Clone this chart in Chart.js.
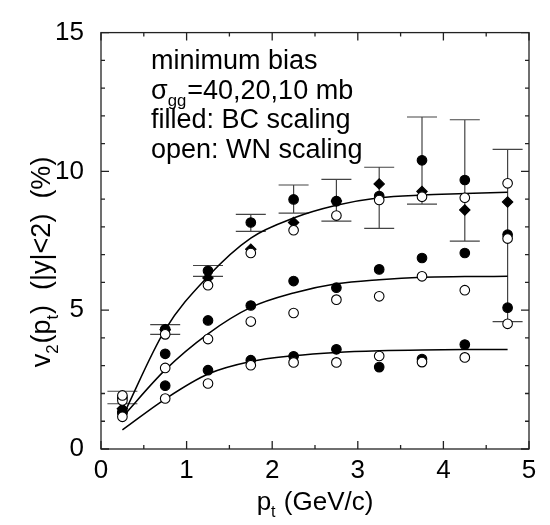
<!DOCTYPE html>
<html><head><meta charset="utf-8">
<script src="https://cdn.jsdelivr.net/npm/chart.js@4.4.1/dist/chart.umd.min.js"></script>
<style>html,body{margin:0;padding:0;background:#fff}canvas{display:block}</style>
</head><body>
<canvas id="c" width="550" height="525"></canvas>
<script>
// ---- data ----
const pt = [0.25, 0.75, 1.25, 1.75, 2.25, 2.75, 3.25, 3.75, 4.25, 4.75];
// sigma_gg = 40 mb
const bc40 = [1.85, 4.31, 6.42, 8.16, 8.99, 8.93, 9.11, 10.40, 9.69, 7.72];
const err40Low = [1.63, 4.13, 6.22, 7.84, 8.50, 8.21, 7.95, 8.82, 7.49, 4.59];
const err40High = [2.08, 4.48, 6.61, 8.45, 9.51, 9.71, 10.15, 11.96, 11.86, 10.79];
const wn40 = [1.93, 4.13, 5.90, 7.06, 7.88, 8.41, 8.97, 9.09, 9.05, 9.57];
const diamonds = [1.45, 4.30, 6.16, 7.20, 8.16, 8.93, 9.55, 9.28, 8.61, 8.90];
const extraOpen = [null, null, null, null, null, null, null, null, null, 7.58];
// sigma_gg = 20 mb
const bc20 = [1.33, 3.43, 4.63, 5.17, 6.05, 5.81, 6.47, 6.88, 7.06, 5.09];
const wn20 = [1.75, 2.92, 3.96, 4.59, 4.90, 5.38, 5.50, 6.22, 5.72, 4.51];
// sigma_gg = 10 mb
const bc10 = [1.30, 2.28, 2.84, 3.20, 3.34, 3.59, 2.95, 3.24, 3.76, null];
const wn10 = [1.16, 1.82, 2.36, 3.02, 3.12, 3.12, 3.35, 3.13, 3.30, null];
// curves
const fit40 = [1.15, 4.30, 6.22, 7.60, 8.32, 8.78, 9.05, 9.15, 9.20, 9.25];
const fit20 = [1.15, 2.85, 4.15, 5.10, 5.62, 5.95, 6.10, 6.19, 6.21, 6.22];
const fit10 = [0.69, 1.80, 2.70, 3.15, 3.36, 3.48, 3.54, 3.57, 3.58, 3.58];
// tick labels
const xTickLabels = ['0', '1', '2', '3', '4', '5'];
const yTickLabels = ['0', '5', '10', '15'];
// text pieces: [text, isSubscript]
const annotationLines = [
  [['minimum bias', 0]],
  [['σ', 0], ['gg', 1], ['=40,20,10 mb', 0]],
  [['filled: BC scaling', 0]],
  [['open: WN scaling', 0]]
];
const xTitleParts = [['p', 0], ['t', 1], [' (GeV/c)', 0]];
const yTitleParts = [['v', 0], ['2', 1], ['(p', 0], ['t', 1], [')  (|y|<2)  (%)', 0]];

const FONT = '"Liberation Sans", Arial, Helvetica, sans-serif';
const toPts = arr => pt.map((x, i) => ({x: x, y: arr[i]})).filter(p => p.y !== null && p.y !== undefined);

function pointSet(label, arr, style, order) {
  const base = {label, data: toPts(arr), showLine: false, order, pointBorderWidth: 1.1,
    pointBorderColor: '#000', pointRadius: 4.8};
  if (style === 'filled') Object.assign(base, {pointStyle: 'circle', pointBackgroundColor: '#000'});
  if (style === 'open') Object.assign(base, {pointStyle: 'circle', pointBackgroundColor: '#fff'});
  if (style === 'diamond') Object.assign(base, {pointStyle: 'rectRot', pointBackgroundColor: '#000', pointRadius: 5.2});
  return base;
}
function lineSet(label, arr) {
  return {label, data: toPts(arr), showLine: true, pointRadius: 0, borderColor: '#000',
    borderWidth: 1.5, cubicInterpolationMode: 'monotone', fill: false, order: 10};
}

function richWidth(ctx, parts, size) {
  let w = 0;
  for (const [t, sub] of parts) { ctx.font = (sub ? size * 0.62 : size) + 'px ' + FONT; w += ctx.measureText(t).width + (sub ? 1 : 0); }
  return w;
}
function drawRich(ctx, parts, x, y, size) {
  for (const [t, sub] of parts) {
    ctx.font = (sub ? size * 0.62 : size) + 'px ' + FONT;
    ctx.fillText(t, x, sub ? y + size * 0.28 : y);
    x += ctx.measureText(t).width + (sub ? 1 : 0);
  }
}

const decor = {
  id: 'decor',
  beforeDatasetsDraw(chart) {
    const {ctx, scales: {x, y}} = chart;
    ctx.save();
    ctx.strokeStyle = '#444';
    ctx.lineWidth = 1.2;
    pt.forEach((p, i) => {
      if (err40Low[i] == null) return;
      const px = x.getPixelForValue(p), y1 = y.getPixelForValue(err40Low[i]), y2 = y.getPixelForValue(err40High[i]);
      ctx.beginPath();
      ctx.moveTo(px, y1); ctx.lineTo(px, y2);
      ctx.moveTo(px - 15, y1); ctx.lineTo(px + 15, y1);
      ctx.moveTo(px - 15, y2); ctx.lineTo(px + 15, y2);
      ctx.stroke();
    });
    ctx.restore();
  },
  afterDraw(chart) {
    const {ctx, chartArea: a, scales: {x, y}} = chart;
    ctx.save();
    ctx.strokeStyle = '#222';
    ctx.lineWidth = 1.3;
    ctx.strokeRect(a.left, a.top, a.right - a.left, a.bottom - a.top);
    ctx.beginPath();
    for (let v = 0; v <= 5.001; v += 0.5) {
      const px = x.getPixelForValue(v);
      const len = Math.abs(v - Math.round(v)) < 1e-6 ? 8 : 4;
      ctx.moveTo(px, a.bottom); ctx.lineTo(px, a.bottom - len);
      ctx.moveTo(px, a.top); ctx.lineTo(px, a.top + len);
    }
    for (let v = 0; v <= 15; v += 1) {
      const py = y.getPixelForValue(v);
      const len = v % 5 === 0 ? 8 : 4;
      ctx.moveTo(a.left, py); ctx.lineTo(a.left + len, py);
      ctx.moveTo(a.right, py); ctx.lineTo(a.right - len, py);
    }
    ctx.stroke();

    ctx.fillStyle = '#000';
    ctx.textBaseline = 'alphabetic';
    ctx.textAlign = 'left';
    // annotation
    annotationLines.forEach((parts, i) => drawRich(ctx, parts, 151, 69 + i * 29.7, 27));
    // x title
    const size = 26;
    const xw = richWidth(ctx, xTitleParts, size);
    drawRich(ctx, xTitleParts, (a.left + a.right) / 2 - xw / 2, 510, size);
    // y title
    const yw = richWidth(ctx, yTitleParts, 27);
    ctx.translate(50, 262);
    ctx.rotate(-Math.PI / 2);
    drawRich(ctx, yTitleParts, -yw / 2, 0, 27);
    ctx.restore();
  }
};

new Chart(document.getElementById('c'), {
  type: 'scatter',
  data: {
    datasets: [
      pointSet('WN 40 mb', wn40, 'open', 1),
      pointSet('WN extra', extraOpen, 'open', 1),
      pointSet('WN 20 mb', wn20, 'open', 1),
      pointSet('WN 10 mb', wn10, 'open', 1),
      pointSet('diamonds', diamonds, 'diamond', 2),
      pointSet('BC 40 mb', bc40, 'filled', 3),
      pointSet('BC 20 mb', bc20, 'filled', 3),
      pointSet('BC 10 mb', bc10, 'filled', 3),
      lineSet('fit 40 mb', fit40),
      lineSet('fit 20 mb', fit20),
      lineSet('fit 10 mb', fit10)
    ]
  },
  options: {
    responsive: false,
    animation: false,
    devicePixelRatio: 1,
    layout: {padding: {left: 0, right: 21, top: 17, bottom: 0}},
    plugins: {legend: {display: false}, tooltip: {enabled: false}},
    scales: {
      x: {
        type: 'linear', min: 0, max: 5,
        grid: {display: false, drawTicks: false}, border: {display: false},
        ticks: {stepSize: 1, padding: 6, color: '#000', font: {family: FONT, size: 26},
          callback: (v) => xTickLabels[Math.round(v)] ?? ''},
        afterFit: (s) => { s.height = 76; }
      },
      y: {
        type: 'linear', min: 0, max: 15,
        grid: {display: false, drawTicks: false}, border: {display: false},
        ticks: {stepSize: 5, padding: 17, color: '#000', font: {family: FONT, size: 26},
          callback: (v) => yTickLabels[Math.round(v / 5)] ?? ''},
        afterFit: (s) => { s.width = 101; }
      }
    }
  },
  plugins: [decor]
});
</script>
</body></html>
